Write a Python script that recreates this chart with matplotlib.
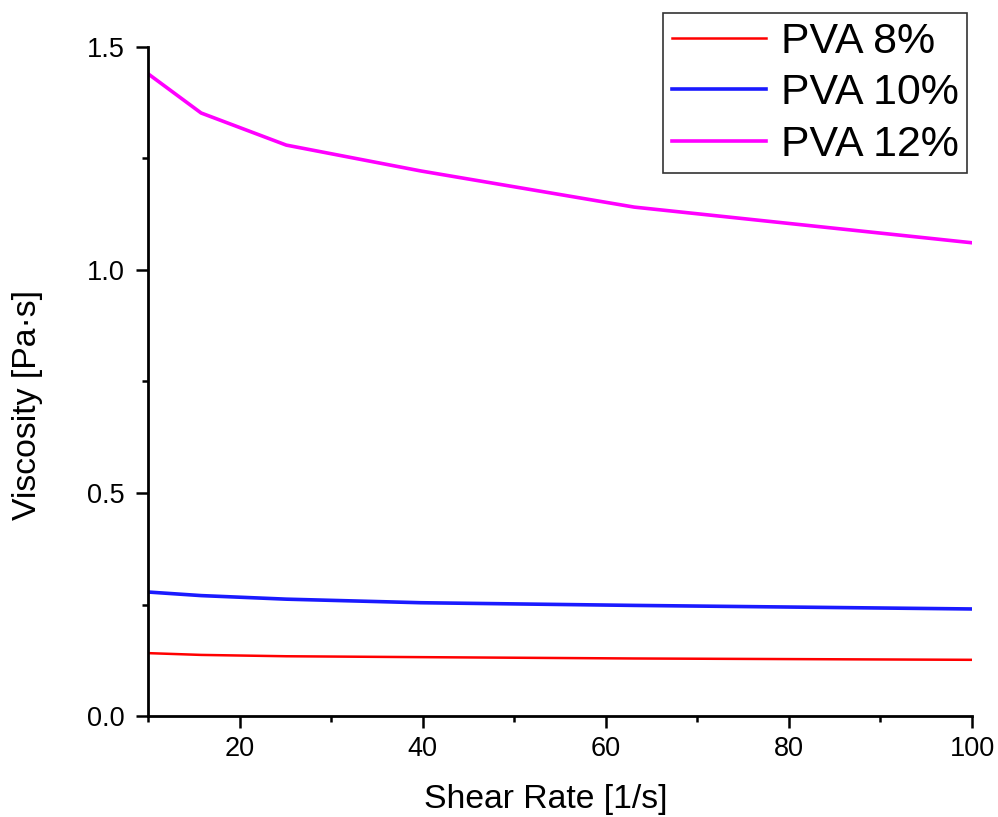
#!/usr/bin/env python3

import matplotlib
matplotlib.use("Agg")
import matplotlib.pyplot as plt
from matplotlib.ticker import MultipleLocator

# Shear rate points (log spaced, 5 per decade)
shear_rate = [10, 15.8, 25.1, 39.8, 63.1, 100]

# Viscosity in Pa·s
pva_8 = [0.141, 0.137, 0.134, 0.132, 0.129, 0.126]
pva_10 = [0.278, 0.270, 0.262, 0.254, 0.248, 0.240]
pva_12 = [1.440, 1.352, 1.280, 1.222, 1.141, 1.061]

labels = ["PVA 8%", "PVA 10%", "PVA 12%"]

plt.rcParams['font.family'] = ['Liberation Sans', 'DejaVu Sans']

fig = plt.figure(figsize=(9.98, 8.17), dpi=100)
ax = fig.add_axes([0.1483, 0.1236, 0.974 - 0.1483, 0.9425 - 0.1236])

ax.plot(shear_rate, pva_8, color='#ff0000', lw=1.8, label=labels[0])
ax.plot(shear_rate, pva_10, color='#1a1aff', lw=2.6, label=labels[1])
ax.plot(shear_rate, pva_12, color='#ff00ff', lw=2.6, label=labels[2])

ax.set_xlim(10, 100)
ax.set_ylim(0, 1.5)
ax.xaxis.set_major_locator(MultipleLocator(20))
ax.xaxis.set_minor_locator(MultipleLocator(10))
ax.yaxis.set_major_locator(MultipleLocator(0.5))
ax.yaxis.set_minor_locator(MultipleLocator(0.25))
ax.yaxis.set_major_formatter(plt.FormatStrFormatter('%.1f'))

for side in ['top', 'right']:
    ax.spines[side].set_visible(False)
for side in ['left', 'bottom']:
    ax.spines[side].set_linewidth(2.0)

ax.tick_params(which='major', direction='out', length=8.5, width=1.8,
               labelsize=19.5)
ax.tick_params(which='minor', direction='out', length=4.5, width=1.8)
ax.tick_params(axis='x', which='major', pad=6)
ax.tick_params(axis='y', which='major', pad=8)

ax.set_xlabel("Shear Rate [1/s]", fontsize=24.3)
ax.set_ylabel("Viscosity [Pa·s]", fontsize=24.3)
ax.xaxis.set_label_coords(0.483, -0.102)
ax.yaxis.set_label_coords(-0.127, 0.465)

leg = fig.legend(loc='upper right', bbox_to_anchor=(967 / 998, 1 - 13 / 817),
                 bbox_transform=fig.transFigure, fontsize=30.9, frameon=True,
                 fancybox=False, edgecolor='#333333', framealpha=1,
                 handlelength=2.2, handletextpad=0.33, labelspacing=0.27,
                 borderpad=0.2, borderaxespad=0)
leg.get_frame().set_linewidth(1.2)

fig.savefig("out.png", dpi=100)
